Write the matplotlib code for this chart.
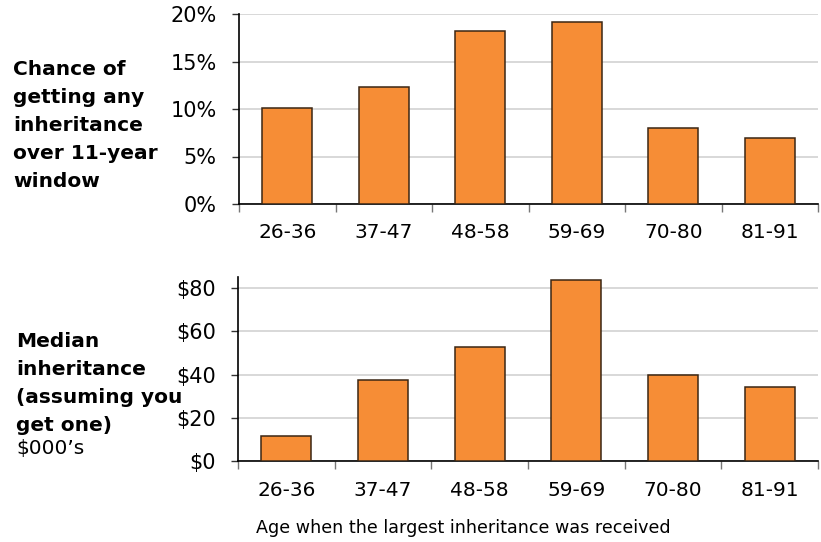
import numpy as np
import matplotlib
matplotlib.use("Agg")
import matplotlib.pyplot as plt
from matplotlib.ticker import FuncFormatter

# data
age_groups = ["26-36", "37-47", "48-58", "59-69", "70-80", "81-91"]
chance_pct = [10.1, 12.35, 18.25, 19.2, 8.05, 6.9]
median_k = [11.6, 37.6, 52.7, 83.8, 39.9, 34.2]

BAR = "#F68D36"
EDGE = "#3b2613"
GRID = "#d2d2d2"

plt.rcParams["font.family"] = ["DejaVu Sans"]

fig = plt.figure(figsize=(8.21, 5.42), dpi=100)
ax1 = fig.add_axes([239/821, 1-204/542, 579/821, 190/542])
ax2 = fig.add_axes([238/821, 1-461.3/542, 580/821, 184/542])

x = np.arange(len(age_groups))


def style(ax, vals, ymax, yticks, fmt):
    ax.bar(x, vals, width=0.52, color=BAR, edgecolor=EDGE,
           linewidth=1.1, zorder=3)
    ax.set_xlim(-0.5, len(age_groups) - 0.5)
    ax.set_ylim(0, ymax)
    ax.set_yticks(yticks)
    ax.yaxis.set_major_formatter(FuncFormatter(fmt))
    ax.set_xticks(x)
    ax.set_xticklabels(age_groups)
    ax.set_xticks(np.arange(-0.5, len(age_groups)), minor=True)
    ax.tick_params(axis="x", which="major", length=0, pad=14, labelsize=14.5)
    ax.tick_params(axis="x", which="minor", length=6, width=1, color="#777777")
    ax.tick_params(axis="y", length=5, width=1, color="#333333", pad=11,
                   labelsize=15)
    ax.grid(axis="y", color=GRID, linewidth=1.2, zorder=0)
    for s in ("top", "right"):
        ax.spines[s].set_visible(False)
    ax.spines["left"].set_linewidth(1.2)
    ax.spines["bottom"].set_linewidth(1.2)


style(ax1, chance_pct, 20, [0, 5, 10, 15, 20], lambda v, p: f"{v:.0f}%")
style(ax2, median_k, 85, [0, 20, 40, 60, 80], lambda v, p: f"${v:.0f}")

fig.text(13/821, 1-60/542, "Chance of\ngetting any\ninheritance\nover 11-year\nwindow",
         ha="left", va="top", fontsize=14.5, fontweight="bold", linespacing=1.6)
fig.text(16/821, 1-332/542, "Median\ninheritance\n(assuming you\nget one)",
         ha="left", va="top", fontsize=14.5, fontweight="bold", linespacing=1.6)
fig.text(16/821, 1-454/542, "$000\u2019s", ha="left", va="baseline", fontsize=14.5)

fig.text(463/821, 1-528/542, "Age when the largest inheritance was received",
         ha="center", va="center", fontsize=12.6)

fig.savefig("out.png", dpi=100)
